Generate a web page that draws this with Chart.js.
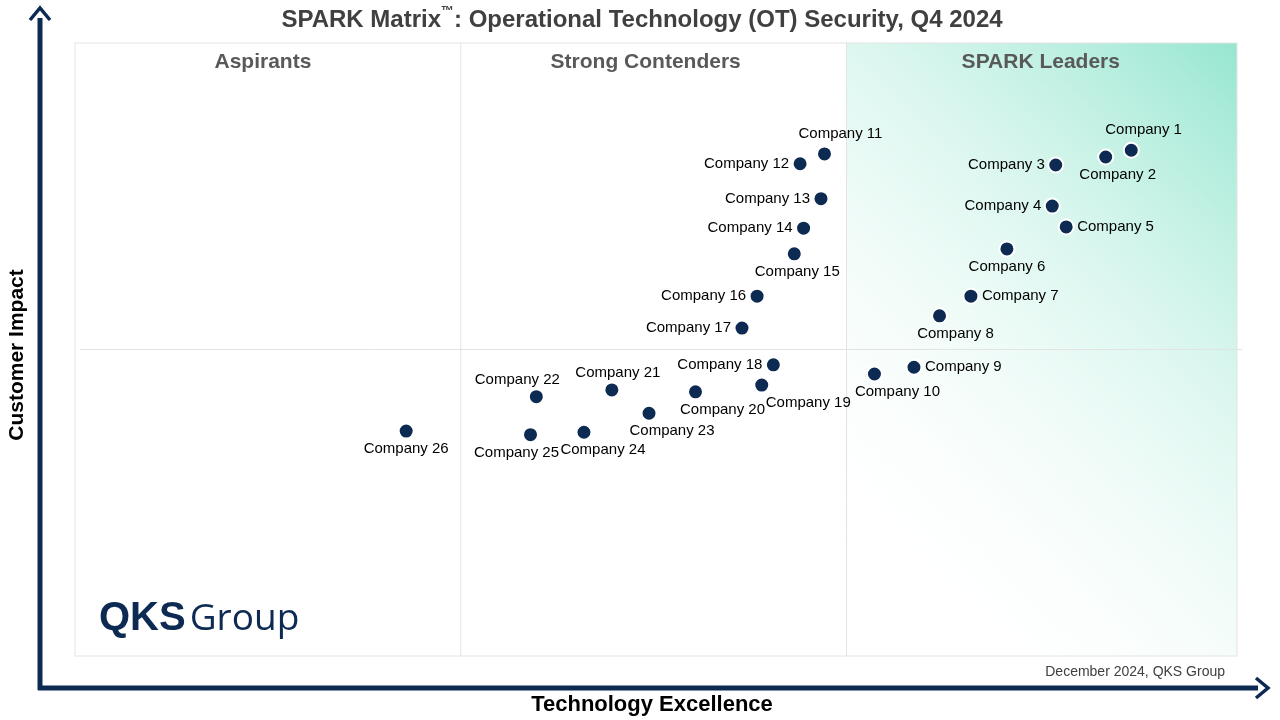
<!DOCTYPE html>
<html><head><meta charset="utf-8">
<script src="https://cdn.jsdelivr.net/npm/chart.js@4"></script>
<style>html,body{margin:0;padding:0;background:#fff}#wrap{width:1280px;height:720px}</style>
</head><body><div id="wrap"><canvas id="c" width="1280" height="720"></canvas></div>
<script>
const companies = ["Company 1","Company 2","Company 3","Company 4","Company 5","Company 6","Company 7","Company 8","Company 9","Company 10",
  "Company 11","Company 12","Company 13","Company 14","Company 15","Company 16","Company 17","Company 18","Company 19","Company 20",
  "Company 21","Company 22","Company 23","Company 24","Company 25","Company 26"];
// Technology Excellence (0-100)
const techScores = [90.9,88.7,84.4,84.1,85.3,80.2,77.1,74.4,72.2,68.8,
  64.5,62.4,64.2,62.7,61.9,58.7,57.4,60.1,59.1,53.4,46.2,39.7,49.4,43.8,39.2,28.5];
// Customer Impact (0-100)
const impactScores = [82.5,81.4,80.1,73.4,70.0,66.4,58.7,55.5,47.1,46.0,
  81.9,80.3,74.6,69.8,65.6,58.7,53.5,47.5,44.2,43.1,43.4,42.3,39.6,36.5,36.1,36.7];
// label placement around each point, with a small horizontal nudge
const labelSide = ["tr","b","l","l","r","b","r","b","r","b",
  "tr","l","l","l","b","l","l","l","br","b","t","t","b","b","b","b"];
const labelNudge = [0,12,0,0,0,0,0,16,0,23,0,0,0,0,3,0,0,0,0,27,6,-19,23,19,-14,0];
const quadrantNames = ["Aspirants","Strong Contenders","SPARK Leaders"];
const NAVY = "#0d2b52";
const FONT = "'Liberation Sans', Arial, sans-serif";

const decor = {
  id: "decor",
  beforeDatasetsDraw(chart) {
    const {ctx, chartArea: a, scales: {x, y}} = chart;
    ctx.save();
    const x1 = x.getPixelForValue(33.2), x2 = x.getPixelForValue(66.4), ym = y.getPixelForValue(50);
    const g = ctx.createLinearGradient(a.right, a.top, x2 - 60, a.bottom - 150);
    g.addColorStop(0, "rgba(150,230,208,1)");
    g.addColorStop(0.35, "rgba(195,241,228,0.7)");
    g.addColorStop(1, "rgba(255,255,255,0)");
    ctx.fillStyle = g;
    ctx.fillRect(x2, a.top, a.right - x2, a.bottom - a.top);
    ctx.strokeStyle = "#e3e3e3"; ctx.lineWidth = 1;
    ctx.strokeRect(a.left, a.top, a.right - a.left, a.bottom - a.top);
    ctx.beginPath();
    ctx.moveTo(x1, a.top); ctx.lineTo(x1, a.bottom);
    ctx.moveTo(x2, a.top); ctx.lineTo(x2, a.bottom);
    ctx.moveTo(a.left + 5, ym); ctx.lineTo(a.right + 5, ym);
    ctx.stroke();
    ctx.fillStyle = "#595959"; ctx.font = "bold 21px " + FONT;
    ctx.textAlign = "center"; ctx.textBaseline = "middle";
    [(a.left + x1) / 2 - 5, (x1 + x2) / 2 - 8, (x2 + a.right) / 2 - 1].forEach((cx, i) => ctx.fillText(quadrantNames[i], cx, a.top + 19));
    ctx.textAlign = "left"; ctx.textBaseline = "alphabetic"; ctx.fillStyle = NAVY;
    ctx.font = "bold 40px " + FONT;
    ctx.fillText("QKS", 99, 630);
    const w = ctx.measureText("QKS").width;
    ctx.font = "37px 'Open Sans', " + FONT;
    ctx.fillText("Group", 99 + w + 4, 630);
    ctx.restore();
  },
  afterDatasetsDraw(chart) {
    const {ctx} = chart;
    const meta = chart.getDatasetMeta(0);
    ctx.save();
    ctx.fillStyle = "#000"; ctx.font = "15px " + FONT;
    meta.data.forEach((p, i) => {
      const s = labelSide[i];
      let dx = labelNudge[i], dy = 0; ctx.textBaseline = "middle";
      if (s === "l") { ctx.textAlign = "right"; dx += -11; }
      else if (s === "r") { ctx.textAlign = "left"; dx += 11; }
      else if (s === "t") { ctx.textAlign = "center"; dy = -17; }
      else if (s === "b") { ctx.textAlign = "center"; dy = 18; }
      else if (s === "tr") { ctx.textAlign = "left"; dx += -26; dy = -20; }
      else if (s === "br") { ctx.textAlign = "left"; dx += 4; dy = 18; }
      ctx.fillText(companies[i], p.x + dx, p.y + dy);
    });
    ctx.restore();
  }
};

const axes = {
  id: "axes",
  afterDraw(chart) {
    const {ctx} = chart;
    ctx.save();
    ctx.strokeStyle = NAVY; ctx.lineWidth = 5;
    ctx.beginPath(); ctx.moveTo(40, 690); ctx.lineTo(40, 18); ctx.moveTo(38, 688); ctx.lineTo(1258, 688); ctx.stroke();
    ctx.lineWidth = 3.5;
    ctx.beginPath(); ctx.moveTo(30, 20); ctx.lineTo(40, 8); ctx.lineTo(50, 20); ctx.stroke();
    ctx.beginPath(); ctx.moveTo(1256, 678); ctx.lineTo(1268, 688); ctx.lineTo(1256, 698); ctx.stroke();
    ctx.fillStyle = "#000"; ctx.font = "bold 22px " + FONT; ctx.textAlign = "center"; ctx.textBaseline = "middle";
    ctx.fillText("Technology Excellence", 652, 705);
    ctx.save(); ctx.translate(17, 355); ctx.rotate(-Math.PI / 2); ctx.font = "bold 21px " + FONT; ctx.fillText("Customer Impact", 0, 0); ctx.restore();
    ctx.fillStyle = "#404040"; ctx.font = "bold 24px " + FONT; ctx.textAlign = "left";
    const a = "SPARK Matrix", b = ": Operational Technology (OT) Security, Q4 2024";
    const wa = ctx.measureText(a).width, wb = ctx.measureText(b).width;
    ctx.font = "bold 13px " + FONT; const wt = ctx.measureText("™").width;
    const sx = 642 - (wa + wb + wt) / 2;
    ctx.font = "bold 24px " + FONT;
    ctx.fillText(a, sx, 20); ctx.fillText(b, sx + wa + wt, 20);
    ctx.font = "bold 13px " + FONT; ctx.fillText("™", sx + wa, 11);
    ctx.font = "14px " + FONT; ctx.textAlign = "right";
    ctx.fillText("December 2024, QKS Group", 1225, 672);
    ctx.restore();
  }
};

new Chart(document.getElementById("c"), {
  type: "scatter",
  data: { datasets: [{
    data: techScores.map((v, i) => ({x: v, y: impactScores[i]})),
    backgroundColor: NAVY, borderColor: "#fff", borderWidth: 2, pointRadius: 7.5, pointHoverRadius: 7.5
  }]},
  options: {
    responsive: false, animation: false, events: [],
    layout: { padding: { left: 75, right: 43, top: 43, bottom: 64 } },
    plugins: { legend: { display: false }, tooltip: { enabled: false } },
    scales: { x: { display: false, min: 0, max: 100 }, y: { display: false, min: 0, max: 100 } }
  },
  plugins: [decor, axes]
});
</script></body></html>
